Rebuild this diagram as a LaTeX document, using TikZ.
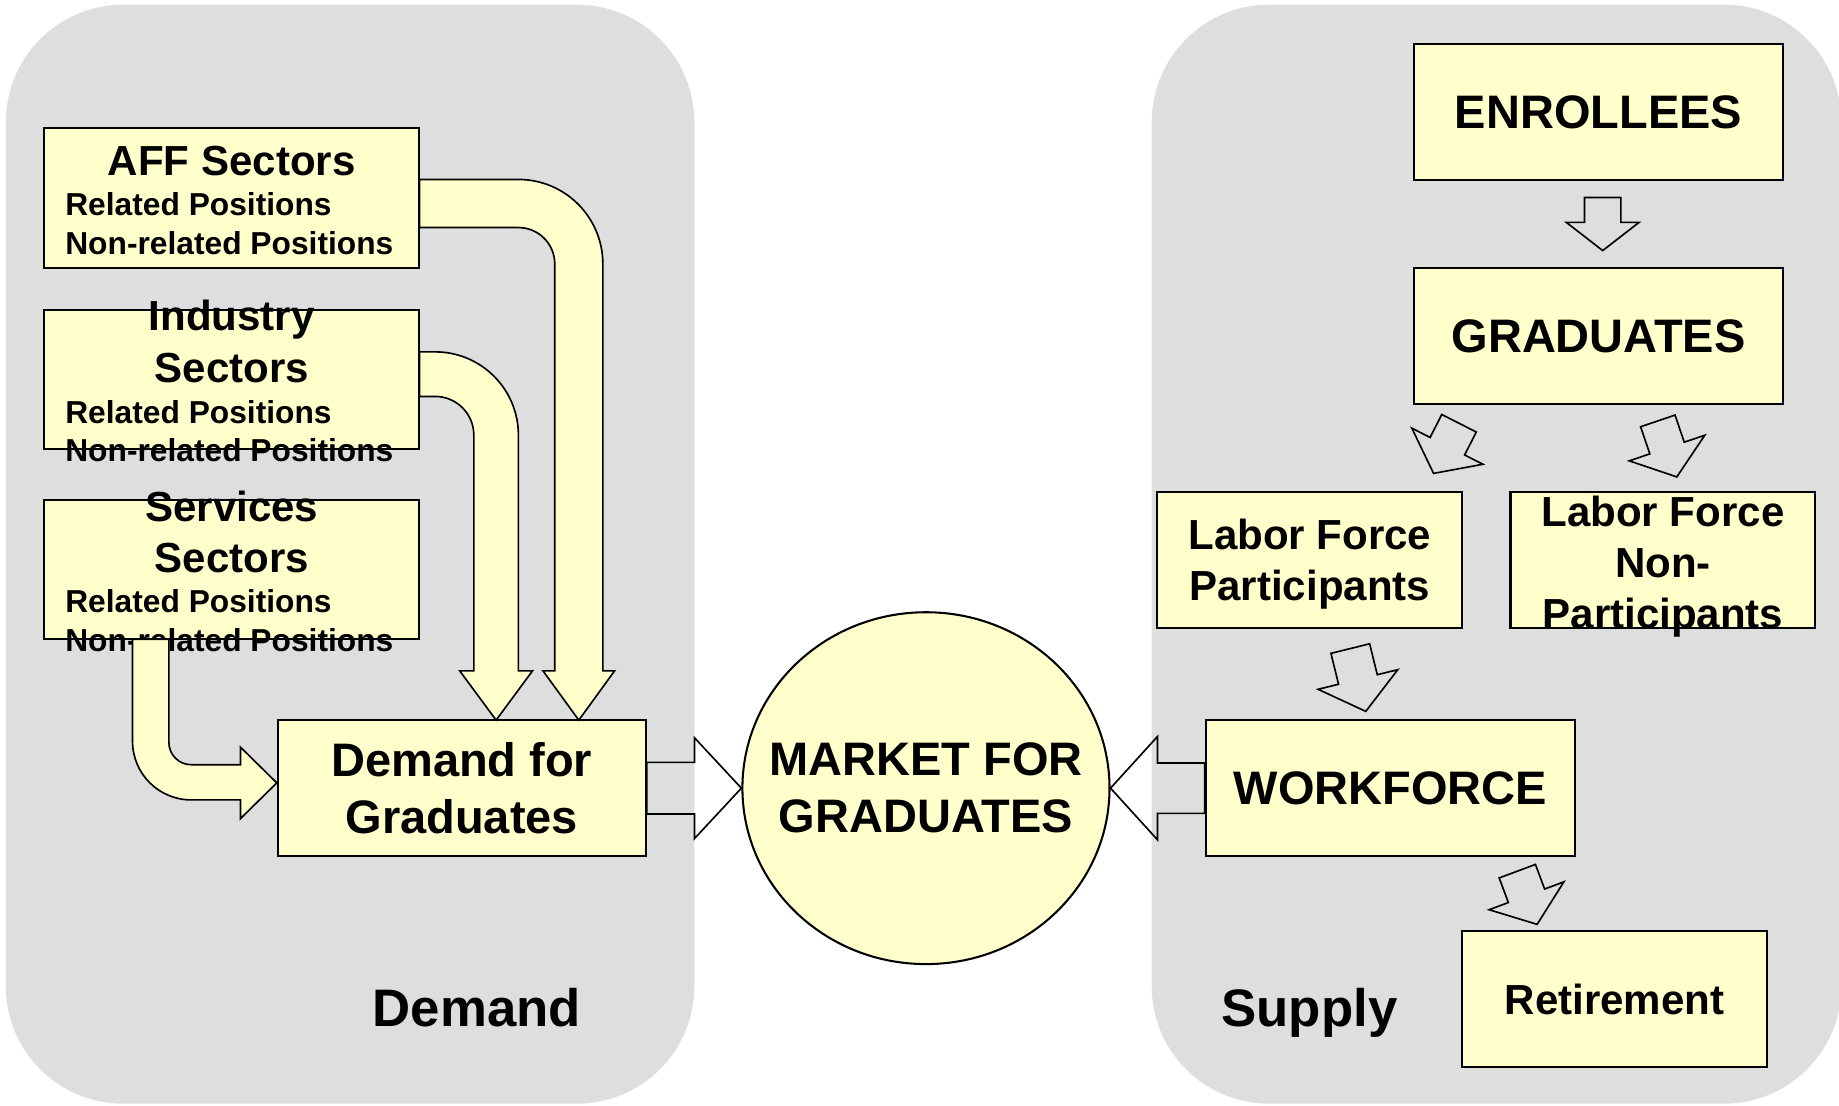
\documentclass[tikz,border=0pt]{standalone}
\usepackage{fontspec}
\setmainfont{Liberation Sans}
\usetikzlibrary{calc,positioning,shapes.geometric}
\definecolor{panelgray}{HTML}{DEDEDE}
\definecolor{boxyellow}{HTML}{FFFFCC}
\tikzset{
  fat/.style args={#1/#2/#3}{to path={let \p1=($(\tikztotarget)!#3!(\tikztostart)$) in
    ($(\tikztostart)!#1!90:(\tikztotarget)$) -- ($(\p1)!#1!90:(\tikztotarget)$)
    -- ($(\p1)!#2!90:(\tikztotarget)$) -- (\tikztotarget)
    -- ($(\p1)!#2!-90:(\tikztotarget)$) -- ($(\p1)!#1!-90:(\tikztotarget)$)
    -- ($(\tikztostart)!#1!-90:(\tikztotarget)$) -- cycle}}
}
\begin{document}
\begin{tikzpicture}[
    box/.style={draw, fill=boxyellow, line width=0.5pt, inner sep=0pt, minimum width=3.14cm, minimum height=1.16cm},
    big/.style={inner sep=0pt, font=\fontsize{11.4}{13.9}\selectfont\bfseries},
    mid/.style={inner sep=0pt, font=\fontsize{10.2}{12.3}\selectfont\bfseries},
    small/.style={inner sep=0pt, font=\fontsize{7.7}{9.4}\selectfont\bfseries},
    side/.style={inner sep=0pt, font=\fontsize{12.8}{15}\selectfont\bfseries},
    flow/.style={draw, fill=boxyellow, line width=0.4pt}]
    \useasboundingbox (0,0) rectangle (15.68,-9.43);
    \fill[panelgray, rounded corners=1cm] (0.05,-0.04) rectangle (5.92,-9.41);
    \fill[panelgray, rounded corners=1cm] (9.82,-0.04) rectangle (15.70,-9.41);

    % demand side
    \node[box, minimum width=3.20cm, minimum height=1.19cm] (AFF) at (1.976,-1.686) {};
    \node[mid, anchor=base] (AFF0) at (1.976,-1.50) {AFF Sectors};
    \node[small, anchor=base west] (AFF1) at (0.55,-1.84) {Related Positions};
    \node[small, anchor=base west] (AFF2) at (0.55,-2.17) {Non-related Positions};

    \node[box, minimum width=3.20cm, minimum height=1.19cm] (IND) at (1.976,-3.235) {};
    \node[mid, anchor=base] (IND0) at (1.976,-2.816) {Industry};
    \node[mid, anchor=base] (IND1) at (1.976,-3.258) {Sectors};
    \node[small, anchor=base west] (IND2) at (0.55,-3.608) {Related Positions};
    \node[small, anchor=base west] (IND3) at (0.55,-3.934) {Non-related Positions};

    \node[box, minimum width=3.20cm, minimum height=1.19cm] (SER) at (1.976,-4.854) {};
    \node[mid, anchor=base] (SER0) at (1.976,-4.445) {Services};
    \node[mid, anchor=base] (SER1) at (1.976,-4.878) {Sectors};
    \node[small, anchor=base west] (SER2) at (0.55,-5.226) {Related Positions};
    \node[small, anchor=base west] (SER3) at (0.55,-5.552) {Non-related Positions};

    \node[box, big, align=center] (DG) at (3.937,-6.72) {Demand for\\Graduates};
    \node[draw, ellipse, fill=boxyellow, line width=0.5pt, inner sep=0pt, minimum width=3.13cm, minimum height=3.00cm] (MG) at (7.895,-6.72) {};
    \node[big, align=center] (MG0) at (MG) {MARKET FOR\\GRADUATES};

    % supply side
    \node[box, big] (EN) at (13.63,-0.955) {ENROLLEES};
    \node[box, big] (GR) at (13.63,-2.865) {GRADUATES};
    \node[box, minimum width=2.60cm] (LFP) at (11.168,-4.775) {};
    \node[mid, align=center] (LFP0) at (11.168,-4.81) {Labor Force\\Participants};
    \node[box, minimum width=2.60cm] (LFN) at (14.179,-4.775) {};
    \node[mid, align=center] (LFN0) at (14.179,-4.83) {Labor Force\\Non-\\Participants};
    \node[box, big, minimum width=3.15cm] (WF) at (11.856,-6.72) {WORKFORCE};
    \node[box, mid, minimum width=2.60cm] (RT) at (13.766,-8.52) {Retirement};

    \node[side, anchor=base] (DEM) at (4.065,-8.75) {Demand};
    \node[side, anchor=base] (SUP) at (11.165,-8.75) {Supply};

    % bent flows into demand
    \filldraw[flow] (3.577,-1.53) -- (4.42,-1.53) arc[start angle=90, end angle=0, radius=0.72]
        -- (5.14,-5.72) -- (5.24,-5.72) -- (4.935,-6.14) -- (4.63,-5.72) -- (4.73,-5.72)
        -- (4.73,-2.25) arc[start angle=0, end angle=90, radius=0.31] -- (3.577,-1.94) -- cycle;
    \filldraw[flow] (3.577,-3.00) -- (3.71,-3.00) arc[start angle=90, end angle=0, radius=0.71]
        -- (4.42,-5.72) -- (4.54,-5.72) -- (4.23,-6.14) -- (3.92,-5.72) -- (4.04,-5.72)
        -- (4.04,-3.71) arc[start angle=0, end angle=90, radius=0.33] -- (3.577,-3.38) -- cycle;
    \filldraw[flow] (1.13,-5.451) -- (1.13,-6.32) arc[start angle=180, end angle=270, radius=0.50]
        -- (2.05,-6.82) -- (2.05,-6.98) -- (2.36,-6.675) -- (2.05,-6.37) -- (2.05,-6.52)
        -- (1.63,-6.52) arc[start angle=270, end angle=180, radius=0.19] -- (1.44,-5.451) -- cycle;

    % straight flows
    \path[flow]
    (DG.east) edge[fat=0.22cm/0.43cm/0.40cm] (MG.west)
    (WF.west) edge[fat=0.215cm/0.44cm/0.40cm] (MG.east)
    ($(EN.south)+(0.035,-0.14)$) edge[fat=0.155cm/0.31cm/0.24cm] ($(GR.north)+(0.035,0.14)$)
    ($(GR.south)+(-1.19,-0.155)$) edge[fat=0.165cm/0.34cm/0.26cm] ($(LFP.north)+(1.055,0.15)$)
    ($(GR.south)+(0.505,-0.135)$) edge[fat=0.155cm/0.34cm/0.26cm] ($(LFN.north)+(0.118,0.12)$)
    ($(LFP.south)+(0.345,-0.166)$) edge[fat=0.17cm/0.35cm/0.28cm] ($(WF.north)+(-0.211,0.066)$)
    ($(WF.south)+(1.081,-0.119)$) edge[fat=0.165cm/0.34cm/0.26cm] ($(RT.north)+(-0.66,0.05)$);
\end{tikzpicture}
\end{document}
